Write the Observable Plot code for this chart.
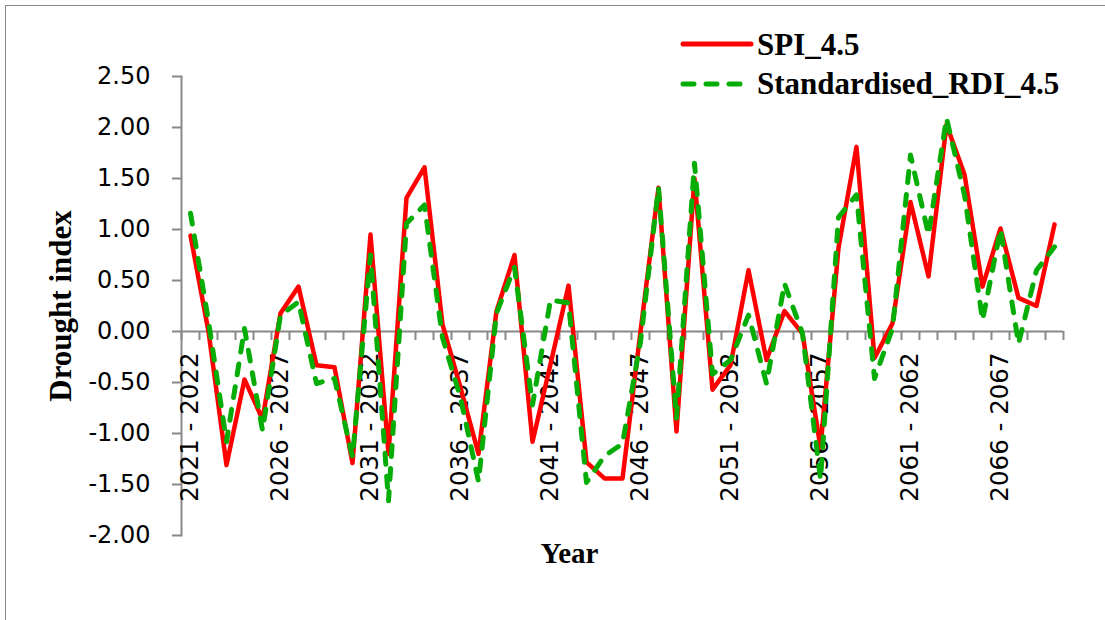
<!DOCTYPE html>
<html>
<head>
<meta charset="utf-8">
<script src="https://cdn.jsdelivr.net/npm/d3@7"></script>
<script src="https://cdn.jsdelivr.net/npm/@observablehq/plot@0.6"></script>
<style>
  html, body { margin: 0; padding: 0; background: #fff; }
  #wrap { position: relative; width: 1105px; height: 620px; overflow: hidden; background: #fff; }
  #border { position: absolute; left: 5px; top: 5px; width: 1200px; height: 700px; border: 1.5px solid #8a8a8a; box-sizing: border-box; }
  #chart { position: absolute; left: 0; top: 0; }
  #legend { position: absolute; left: 0; top: 0; pointer-events: none; }
</style>
</head>
<body>
<div id="wrap">
  <div id="border"></div>
  <div id="chart"></div>
  <svg id="legend" width="1105" height="120"></svg>
</div>
<script>
// Hydrological years shown on the category axis
const periods = [
  "2021 - 2022", "2022 - 2023", "2023 - 2024", "2024 - 2025", "2025 - 2026",
  "2026 - 2027", "2027 - 2028", "2028 - 2029", "2029 - 2030", "2030 - 2031",
  "2031 - 2032", "2032 - 2033", "2033 - 2034", "2034 - 2035", "2035 - 2036",
  "2036 - 2037", "2037 - 2038", "2038 - 2039", "2039 - 2040", "2040 - 2041",
  "2041 - 2042", "2042 - 2043", "2043 - 2044", "2044 - 2045", "2045 - 2046",
  "2046 - 2047", "2047 - 2048", "2048 - 2049", "2049 - 2050", "2050 - 2051",
  "2051 - 2052", "2052 - 2053", "2053 - 2054", "2054 - 2055", "2055 - 2056",
  "2056 - 2057", "2057 - 2058", "2058 - 2059", "2059 - 2060", "2060 - 2061",
  "2061 - 2062", "2062 - 2063", "2063 - 2064", "2064 - 2065", "2065 - 2066",
  "2066 - 2067", "2067 - 2068", "2068 - 2069", "2069 - 2070"
];

// Periods that carry a tick label (every fifth year)
const labelledPeriods = [
  "2021 - 2022", "2026 - 2027", "2031 - 2032", "2036 - 2037", "2041 - 2042",
  "2046 - 2047", "2051 - 2052", "2056 - 2057", "2061 - 2062", "2066 - 2067"
];

// SPI under RCP 4.5
const spi = [
   0.94,  0.00, -1.31, -0.47, -0.86,  0.18,  0.44, -0.33, -0.35, -1.29,
   0.95, -1.20,  1.31,  1.61,  0.07, -0.55, -1.20,  0.20,  0.75, -1.08,
  -0.32,  0.45, -1.28, -1.44, -1.44,  0.00,  1.41, -0.98,  1.50, -0.57,
  -0.33,  0.60, -0.28,  0.20, -0.02, -1.14,  0.82,  1.81, -0.26,  0.08,
   1.27,  0.54,  2.03,  1.54,  0.44,  1.01,  0.33,  0.25,  1.05
];

// Standardised RDI under RCP 4.5
const rdi = [
   1.16,  0.10, -1.08,  0.03, -0.97,  0.16,  0.29, -0.51, -0.46, -1.23,
   0.75, -1.66,  1.06,  1.24, -0.06, -0.65, -1.47,  0.18,  0.63, -0.72,
   0.31,  0.28, -1.48, -1.22, -1.10, -0.10,  1.41, -0.85,  1.65, -0.42,
  -0.28,  0.16, -0.51,  0.47, -0.02, -1.45,  1.12,  1.34, -0.46,  0.03,
   1.73,  0.95,  2.09,  1.34,  0.11,  1.00, -0.12,  0.60,  0.83
];

const yTicks = [-2, -1.5, -1, -0.5, 0, 0.5, 1, 1.5, 2, 2.5];

const series = [
  {name: "SPI_4.5", color: "#ff0000", dash: null},
  {name: "Standardised_RDI_4.5", color: "#06ad06", dash: "11,12"}
];

const rows = periods.map((p, i) => ({period: p, spi: spi[i], rdi: rdi[i]}));

const axisGray = "#888888";
const tickLen = 9 * 4.5 / 459; // 9px below the zero line, in index units

const chart = Plot.plot({
  width: 1105,
  height: 620,
  marginLeft: 181,
  marginRight: 42,
  marginTop: 76,
  marginBottom: 85,
  style: {fontFamily: "DejaVu Sans", background: "transparent", color: "#000", overflow: "visible"},
  x: {type: "point", domain: periods, padding: 0.5, axis: null},
  y: {domain: [-2, 2.5], axis: null},
  marks: [
    Plot.frame({anchor: "left", stroke: axisGray, strokeWidth: 2}),
    Plot.axisY({
      ticks: yTicks,
      tickFormat: d => d.toFixed(2),
      tickSize: 9,
      tickPadding: 22,
      fontSize: 24,
      stroke: axisGray,
      strokeWidth: 2,
      fill: "#000",
      label: null
    }),
    Plot.ruleY([0], {stroke: axisGray, strokeWidth: 2}),
    // category boundary ticks along the zero line
    Plot.ruleX(periods, {x: d => d, y1: 0, y2: -tickLen, dx: -9, stroke: axisGray, strokeWidth: 2}),
    Plot.ruleX(periods.slice(-1), {x: d => d, y1: 0, y2: -tickLen, dx: 9, stroke: axisGray, strokeWidth: 2}),
    Plot.text(labelledPeriods, {
      x: d => d, y: 0, text: d => d,
      rotate: -90, textAnchor: "end", lineAnchor: "middle",
      dy: 21, fontSize: 24.5, fill: "#000"
    }),
    Plot.line(rows, {x: "period", y: "spi", stroke: series[0].color, strokeWidth: 4.5}),
    Plot.line(rows, {
      x: "period", y: "rdi", stroke: series[1].color, strokeWidth: 5,
      strokeDasharray: series[1].dash, strokeLinecap: "round"
    }),
    Plot.text(["Drought index"], {
      frameAnchor: "left", text: d => d, rotate: -90, dx: -120,
      textAnchor: "middle", lineAnchor: "middle",
      fontFamily: "Liberation Serif", fontWeight: "bold", fontSize: 31, fill: "#000"
    }),
    Plot.text(["Year"], {
      frameAnchor: "bottom", text: d => d, dx: -53, dy: 18,
      textAnchor: "middle", lineAnchor: "middle",
      fontFamily: "Liberation Serif", fontWeight: "bold", fontSize: 29, fill: "#000"
    })
  ]
});
document.getElementById("chart").appendChild(chart);

// Legend in the upper right corner
const legend = d3.select("#legend");
const legendRows = [
  {y: 44, base: 54.5, x2: 751},
  {y: 84, base: 93.5, x2: 742}
];
series.forEach((s, i) => {
  const r = legendRows[i];
  legend.append("line")
    .attr("x1", 683).attr("x2", r.x2)
    .attr("y1", r.y).attr("y2", r.y)
    .attr("stroke", s.color).attr("stroke-width", 5)
    .attr("stroke-linecap", "round")
    .attr("stroke-dasharray", s.dash);
  legend.append("text")
    .attr("x", 757).attr("y", r.base)
    .attr("font-family", "Liberation Serif")
    .attr("font-weight", "bold")
    .attr("font-size", 31)
    .attr("fill", "#000")
    .text(s.name);
});
</script>
</body>
</html>
